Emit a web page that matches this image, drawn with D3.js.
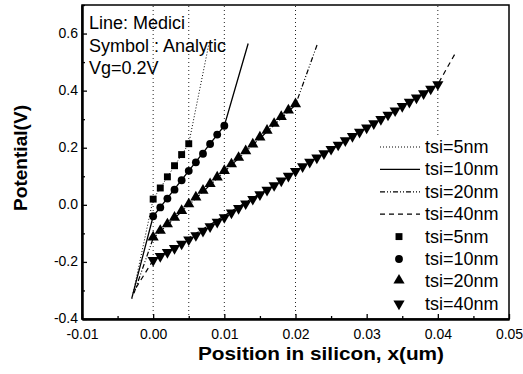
<!DOCTYPE html>
<html>
<head>
<meta charset="utf-8">
<script src="https://cdn.jsdelivr.net/npm/d3@7"></script>
<style>
  body { margin: 0; background: #fff; }
  svg { font-family: "Liberation Sans", Arial, sans-serif; }
</style>
</head>
<body>
<div id="plot"></div>
<script>
// Tick values and silicon boundaries (um)
const xTicks = [-0.01, 0, 0.01, 0.02, 0.03, 0.04, 0.05];
const yTicks = [-0.4, -0.2, 0, 0.2, 0.4, 0.6];
const boundaries = [0, 0.005, 0.01, 0.02, 0.04];
const seriesNames = ["tsi=5nm", "tsi=10nm", "tsi=20nm", "tsi=40nm"];
const infoLines = ["Line: Medici", "Symbol : Analytic", "Vg=0.2V"];

// Medici curves: [x (um), potential (V)]
const medici5 = [[-0.003, -0.33], [0, 0.02], [0.005, 0.214], [0.0078, 0.56]];
const medici10 = [[-0.003, -0.327], [0, -0.04], [0.005, 0.119], [0.01, 0.277], [0.01335, 0.565]];
const medici20 = [[-0.0027, -0.31], [0, -0.117], [0.01, 0.116], [0.02, 0.35], [0.0231, 0.565]];
const medici40 = [[-0.0024, -0.29], [0, -0.194], [0.02, 0.118], [0.04, 0.422], [0.0425, 0.533]];

// Analytic points
const analyticX5 = [0, 0.001, 0.002, 0.003, 0.004, 0.005];
const analyticV5 = [0.020, 0.059, 0.098, 0.137, 0.176, 0.214];
const analyticX10 = [0, 0.001, 0.002, 0.003, 0.004, 0.005, 0.006, 0.007, 0.008, 0.009, 0.010];
const analyticV10 = [-0.040, -0.009, 0.022, 0.053, 0.086, 0.119, 0.149, 0.179, 0.213, 0.246, 0.277];
const analyticX20 = [0, 0.001, 0.002, 0.003, 0.004, 0.005, 0.006, 0.007, 0.008, 0.009, 0.010,
  0.011, 0.012, 0.013, 0.014, 0.015, 0.016, 0.017, 0.018, 0.019, 0.020];
const analyticV20 = [-0.117, -0.094, -0.071, -0.048, -0.024, -0.001, 0.023, 0.047, 0.070, 0.093, 0.116,
  0.139, 0.162, 0.185, 0.209, 0.233, 0.257, 0.281, 0.305, 0.328, 0.350];
const analyticX40 = [0, 0.001, 0.002, 0.003, 0.004, 0.005, 0.006, 0.007, 0.008, 0.009, 0.010,
  0.011, 0.012, 0.013, 0.014, 0.015, 0.016, 0.017, 0.018, 0.019, 0.020,
  0.021, 0.022, 0.023, 0.024, 0.025, 0.026, 0.027, 0.028, 0.029, 0.030,
  0.031, 0.032, 0.033, 0.034, 0.035, 0.036, 0.037, 0.038, 0.039, 0.040];
const analyticV40 = [-0.194, -0.180, -0.166, -0.152, -0.137, -0.122, -0.107, -0.092, -0.076, -0.060, -0.044,
  -0.028, -0.012, 0.004, 0.020, 0.036, 0.052, 0.068, 0.084, 0.101, 0.118,
  0.134, 0.150, 0.165, 0.180, 0.195, 0.210, 0.225, 0.240, 0.255, 0.270,
  0.285, 0.300, 0.315, 0.330, 0.345, 0.360, 0.375, 0.390, 0.406, 0.422];

const width = 523;
const height = 374;
const margin = { top: 5, right: 14, bottom: 55, left: 82 };

const svg = d3.select("#plot")
  .append("svg")
  .attr("width", width)
  .attr("height", height);

const x = d3.scaleLinear()
  .domain([-0.01, 0.05])
  .range([margin.left, width - margin.right]);

const y = d3.scaleLinear()
  .domain([-0.4, 0.7])
  .range([height - margin.bottom, margin.top]);

const line = d3.line().x(d => x(d[0])).y(d => y(d[1]));

// Vertical dotted lines at the silicon boundaries
svg.append("g")
  .selectAll("line")
  .data(boundaries)
  .enter()
  .append("line")
  .attr("x1", d => x(d))
  .attr("x2", d => x(d))
  .attr("y1", y(-0.4))
  .attr("y2", y(0.7))
  .attr("stroke", "#222")
  .attr("stroke-width", 1)
  .attr("stroke-dasharray", "1,3");

// Medici lines
const lineStyles = [
  { data: medici5, dash: "1,2", width: 1 },
  { data: medici10, dash: null, width: 1.3 },
  { data: medici20, dash: "5,2,1,2,1,2", width: 1.2 },
  { data: medici40, dash: "5,4", width: 1.2 }
];

lineStyles.forEach(s => {
  svg.append("path")
    .datum(s.data)
    .attr("fill", "none")
    .attr("stroke", "#000")
    .attr("stroke-width", s.width)
    .attr("stroke-dasharray", s.dash)
    .attr("d", line);
});

// Analytic symbols
const symbolTypes = [d3.symbolSquare, d3.symbolCircle, d3.symbolTriangle, d3.symbolTriangle];
const symbolSizes = [48, 48, 54, 54];
const analytic = [
  [analyticX5, analyticV5],
  [analyticX10, analyticV10],
  [analyticX20, analyticV20],
  [analyticX40, analyticV40]
];

function symbolTransform(i, px, py) {
  return i === 3 ? `translate(${px},${py}) rotate(180)` : `translate(${px},${py - (i === 2 ? 1 : 0)})`;
}

analytic.forEach((a, i) => {
  svg.append("g")
    .selectAll("path")
    .data(a[0].map((xv, j) => [xv, a[1][j]]))
    .enter()
    .append("path")
    .attr("d", d3.symbol().type(symbolTypes[i]).size(symbolSizes[i]))
    .attr("transform", d => symbolTransform(i, x(d[0]), y(d[1])))
    .attr("fill", "#000");
});

// Legend with white background
const legendX = 380;
const legendY0 = 147;
const legendStep = 22.4;

svg.append("rect")
  .attr("x", 378)
  .attr("y", 135)
  .attr("width", x(0.05) - 379)
  .attr("height", y(-0.4) - 136)
  .attr("fill", "#fff");

const legend = svg.append("g");

lineStyles.forEach((s, i) => {
  const ly = legendY0 + i * legendStep;
  legend.append("line")
    .attr("x1", legendX)
    .attr("x2", legendX + 40)
    .attr("y1", ly)
    .attr("y2", ly)
    .attr("stroke", "#000")
    .attr("stroke-width", s.width)
    .attr("stroke-dasharray", s.dash);
  legend.append("text")
    .attr("x", 425)
    .attr("y", ly + 6)
    .attr("font-size", 18)
    .text(seriesNames[i]);
});

symbolTypes.forEach((t, i) => {
  const ly = legendY0 + (i + 4) * legendStep;
  legend.append("path")
    .attr("d", d3.symbol().type(t).size(symbolSizes[i]))
    .attr("transform", symbolTransform(i, 399, ly))
    .attr("fill", "#000");
  legend.append("text")
    .attr("x", 425)
    .attr("y", ly + 6)
    .attr("font-size", 18)
    .text(seriesNames[i]);
});

// Frame
svg.append("rect")
  .attr("x", x(-0.01))
  .attr("y", y(0.7))
  .attr("width", x(0.05) - x(-0.01))
  .attr("height", y(-0.4) - y(0.7))
  .attr("fill", "none")
  .attr("stroke", "#000")
  .attr("stroke-width", 1.5);

// Axes (ticks pointing inward)
const fmt2 = d => d3.format(".2f")(d).replace("\u2212", "-");
const fmt1 = d => d3.format(".1f")(d).replace("\u2212", "-");

const xAxis = svg.append("g")
  .attr("transform", `translate(0,${y(-0.4)})`)
  .call(d3.axisBottom(x).tickValues(xTicks).tickFormat(fmt2).tickSizeInner(-5).tickSizeOuter(0).tickPadding(10));

const yAxis = svg.append("g")
  .attr("transform", `translate(${x(-0.01)},0)`)
  .call(d3.axisLeft(y).tickValues(yTicks).tickFormat(fmt1).tickSizeInner(-5).tickSizeOuter(0).tickPadding(4));

// Minor ticks
svg.append("g")
  .attr("transform", `translate(0,${y(-0.4)})`)
  .call(d3.axisBottom(x).tickValues(xTicks.slice(0, -1).map(v => v + 0.005)).tickFormat("").tickSizeInner(-3).tickSizeOuter(0));
svg.append("g")
  .attr("transform", `translate(${x(-0.01)},0)`)
  .call(d3.axisLeft(y).tickValues(yTicks.map(v => v + 0.1)).tickFormat("").tickSizeInner(-3).tickSizeOuter(0));

svg.selectAll(".domain").attr("stroke-width", 2);
svg.selectAll(".tick line").attr("stroke-width", 1.3);
xAxis.selectAll("text").attr("font-size", 14).attr("font-family", "Liberation Sans, Arial, sans-serif");
yAxis.selectAll("text").attr("font-size", 14).attr("font-family", "Liberation Sans, Arial, sans-serif")
  .attr("dy", "0.25em");

// Info text
svg.append("g")
  .selectAll("text")
  .data(infoLines)
  .enter()
  .append("text")
  .attr("x", 89)
  .attr("y", (d, i) => 29 + i * 22.5)
  .attr("font-size", 18)
  .text(d => d);

// Axis titles
svg.append("text")
  .attr("x", 321)
  .attr("y", 360)
  .attr("text-anchor", "middle")
  .attr("font-size", 18)
  .attr("font-weight", "bold")
  .attr("textLength", 246)
  .attr("lengthAdjust", "spacingAndGlyphs")
  .text("Position in silicon, x(um)");

svg.append("text")
  .attr("transform", "rotate(-90)")
  .attr("x", -158)
  .attr("y", 27)
  .attr("text-anchor", "middle")
  .attr("font-size", 18)
  .attr("font-weight", "bold")
  .attr("textLength", 106)
  .attr("lengthAdjust", "spacingAndGlyphs")
  .text("Potential(V)");
</script>
</body>
</html>
